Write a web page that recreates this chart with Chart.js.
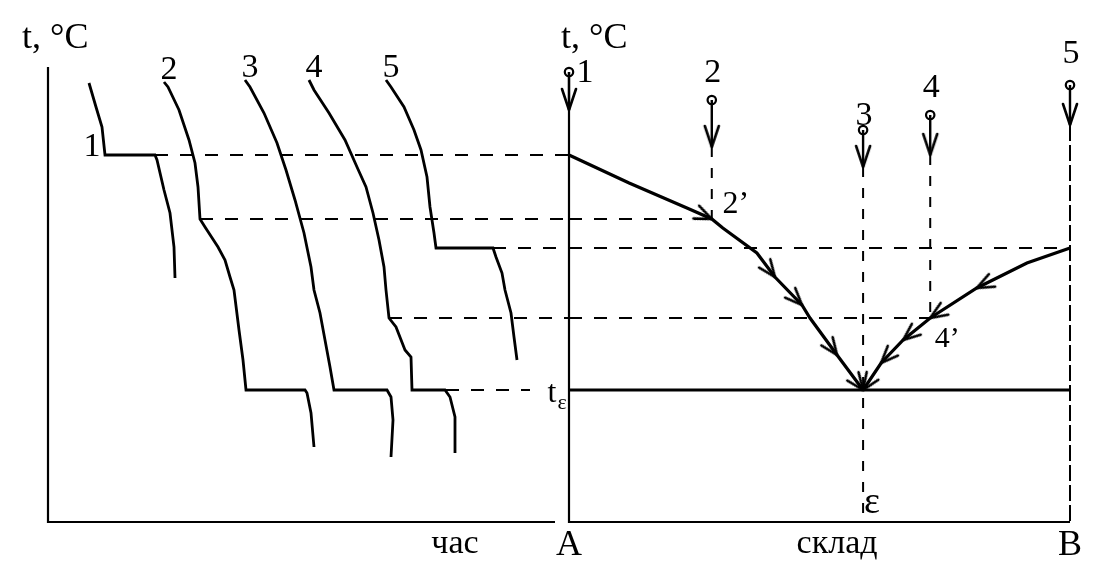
<!DOCTYPE html>
<html>
<head>
<meta charset="utf-8">
<script src="https://cdn.jsdelivr.net/npm/chart.js@4/dist/chart.umd.min.js"></script>
<style>
html, body { margin: 0; padding: 0; background: #fff; }
#diagram { display: block; }
</style>
</head>
<body>
<canvas id="diagram" width="1115" height="570"></canvas>
<script>
// characteristic temperatures (arbitrary units, 0 = bottom axis)
var tLevel1 = 367;   // pure A crystallises (plateau of curve 1)
var tLevel2 = 303;   // alloy 2 starts to crystallise (point 2')
var tLevel5 = 274;   // pure B crystallises (plateau of curve 5)
var tLevel4 = 204;   // alloy 4 starts to crystallise (point 4')
var tEut    = 132;   // eutectic temperature

// cooling curves, left panel: [time, temperature]
var cool1 = [[41,439],[48,415],[54,395],[57,367],[107,367],[109,362],[116,332],[122,309],[126,275],[127,244]];
var cool2 = [[116,440],[120,435],[131,412],[141,382],[147,359],[150,335],[152,303],[157,295],[170,275],[177,262],[182,245],[186,232],[191,192],[195,162],[198,132],[257,132],[259,129],[263,109],[266,75]];
var cool3 = [[197,442],[202,435],[216,409],[229,379],[238,352],[247,322],[256,289],[263,255],[266,232],[272,209],[277,182],[282,155],[286,132],[339,132],[343,125],[345,102],[343,65]];
var cool4 = [[261,442],[266,432],[281,409],[297,382],[309,355],[318,335],[325,309],[331,282],[336,255],[338,232],[341,204],[348,195],[357,172],[363,165],[364,132],[397,132],[402,125],[407,105],[407,69]];
var cool5 = [[338,442],[343,435],[356,415],[366,392],[373,372],[379,345],[382,315],[386,289],[388,274],[445,274],[448,265],[454,249],[457,232],[463,209],[466,185],[469,162]];

// time where each level line leaves its cooling curve
var levelTemps = [tLevel1, tLevel2, tLevel5, tLevel4, tEut];
var levelFrom  = [107, 152, 445, 341, 398];
var levelTo    = [0, 28.5, 100, 72.1, 0];   // composition where it meets the liquidus

// phase diagram, right panel: [composition %B, temperature]
var liqA = [[0,367],[12,339],[24,313],[28.5,303],[30.7,294],[37.5,269],[41.1,245],[46.5,217],[48.1,204],[53.5,167],[58.7,132]];
var liqB = [[100,274],[91.4,259],[81.4,234],[72.1,204],[66.7,182],[62.3,159],[58.7,132]];
var arrowsA = [3, 6, 7, 9, 10];
var arrowsB = [2, 3, 4, 5, 6];

// alloys 1..5
var alloyNames = ['1', '2', '3', '4', '5'];
var alloyComp  = [0, 28.5, 58.7, 72.1, 100];
var alloyStart = [450, 422, 392, 407, 437];   // open circles
var alloyArrow = [412, 375, 355, 367, 397];   // arrow tips
var alloyEnd   = [0, tLevel2, 0, tLevel4, 0];

var timeAxisEnd = 507;
var axisTop = 455;

function makeArrow(len, half) {
    var c = document.createElement('canvas');
    var s = Math.ceil(len * 2 + 6);
    c.width = s; c.height = s;
    var g = c.getContext('2d');
    g.strokeStyle = '#000';
    g.lineWidth = 2.6;
    g.lineCap = 'round';
    g.lineJoin = 'round';
    g.beginPath();
    g.moveTo(s / 2 - half, s / 2 - len);
    g.lineTo(s / 2, s / 2);
    g.lineTo(s / 2 + half, s / 2 - len);
    g.stroke();
    return c;
}
var bigArrow = makeArrow(21, 7);
var smallArrow = makeArrow(17, 7);

function pts(arr) {
    return arr.map(function (p) { return {x: p[0], y: p[1]}; });
}

function line(data, axis, width, dash) {
    return {
        data: data, xAxisID: axis, showLine: true, pointRadius: 0,
        borderColor: '#000', borderWidth: width, borderDash: dash || [],
        tension: 0, clip: false
    };
}

var datasets = [];

// axes of both panels
datasets.push(line([{x: 0, y: axisTop}, {x: 0, y: 0}, {x: timeAxisEnd, y: 0}], 'xt', 2.2));
datasets.push(line([{x: 0, y: alloyStart[0]}, {x: 0, y: 0}, {x: 100, y: 0}], 'xc', 2.2));

// cooling curves
[cool1, cool2, cool3, cool4, cool5].forEach(function (c) {
    datasets.push(line(pts(c), 'xt', 2.8));
});

// horizontal level lines through both panels
levelTemps.forEach(function (T, i) {
    var tEnd = (T === tEut) ? 482 : 521;
    datasets.push(line([{x: levelFrom[i], y: T}, {x: tEnd, y: T}], 'xt', 2, [13, 12]));
    if (levelTo[i] > 0) {
        datasets.push(line([{x: 0, y: T}, {x: levelTo[i], y: T}], 'xc', 2, [13, 12]));
    }
});

// solidus (eutectic line)
datasets.push(line([{x: 0, y: tEut}, {x: 100, y: tEut}], 'xc', 3));

// liquidus branches
datasets.push(line(pts(liqA), 'xc', 3.2));
datasets.push(line(pts(liqB), 'xc', 3.2));

// alloy verticals
alloyComp.forEach(function (c, i) {
    datasets.push(line([{x: c, y: alloyStart[i]}, {x: c, y: alloyArrow[i]}], 'xc', 2.4));
    if (i > 0) {
        var dash = (i === 4) ? [16, 4] : [10, 11];
        datasets.push(line([{x: c, y: alloyArrow[i]}, {x: c, y: alloyEnd[i]}], 'xc', 2, dash));
    }
});

// arrow heads on the verticals
datasets.push({
    data: alloyComp.map(function (c, i) { return {x: c, y: alloyArrow[i]}; }),
    xAxisID: 'xc', showLine: false, pointStyle: bigArrow, pointRadius: 6, clip: false
});

// open circles
datasets.push({
    data: alloyComp.map(function (c, i) { return {x: c, y: alloyStart[i]}; }),
    xAxisID: 'xc', showLine: false, pointStyle: 'circle', pointRadius: 4.2,
    pointBackgroundColor: '#fff', pointBorderColor: '#000', pointBorderWidth: 2.2, clip: false
});

// arrows along the liquidus
function arrowSet(curve, idx) {
    return {
        data: idx.map(function (i) { return {x: curve[i][0], y: curve[i][1]}; }),
        xAxisID: 'xc', showLine: false, pointStyle: smallArrow, pointRadius: 6, clip: false,
        rotation: function (ctx) {
            var i = idx[ctx.dataIndex];
            var sx = ctx.chart.scales.xc, sy = ctx.chart.scales.y;
            var dx = sx.getPixelForValue(curve[i][0]) - sx.getPixelForValue(curve[i - 1][0]);
            var dy = sy.getPixelForValue(curve[i][1]) - sy.getPixelForValue(curve[i - 1][1]);
            return Math.atan2(-dx, dy) * 180 / Math.PI;
        }
    };
}
datasets.push(arrowSet(liqA, arrowsA));
datasets.push(arrowSet(liqB, arrowsB));

var textPlugin = {
    id: 'texts',
    afterDatasetsDraw: function (chart) {
        var ctx = chart.ctx;
        var xt = chart.scales.xt, xc = chart.scales.xc, y = chart.scales.y;
        var serif = '"Liberation Serif", "DejaVu Serif", serif';
        function put(text, x, yy, size, align) {
            ctx.font = size + 'px ' + serif;
            ctx.textAlign = align || 'center';
            ctx.textBaseline = 'alphabetic';
            ctx.fillText(text, x, yy);
        }
        ctx.save();
        ctx.fillStyle = '#000';
        put('t, \u00B0C', xt.getPixelForValue(0) - 26, y.getPixelForValue(474), 36, 'left');
        put('t, \u00B0C', xc.getPixelForValue(0) - 8, y.getPixelForValue(474), 36, 'left');

        // cooling-curve numbers
        put('1', xt.getPixelForValue(cool1[3][0]) - 13, y.getPixelForValue(cool1[3][1]) + 1, 34);
        [cool2, cool3, cool4, cool5].forEach(function (c, k) {
            put(alloyNames[k + 1], xt.getPixelForValue(c[0][0]) + 5, y.getPixelForValue(c[0][1]) - 3, 34);
        });

        // alloy numbers above the circles
        alloyComp.forEach(function (c, i) {
            var px = xc.getPixelForValue(c), py = y.getPixelForValue(alloyStart[i]);
            if (i === 0) put(alloyNames[i], px + 16, py + 10, 34);
            else if (i === 2) put(alloyNames[i], px + 1, py - 5, 34);
            else if (i === 4) put(alloyNames[i], px + 1, py - 22, 34);
            else put(alloyNames[i], px + 1, py - 18, 34);
        });

        put('2\u2019', xc.getPixelForValue(alloyComp[1]) + 24, y.getPixelForValue(tLevel2) - 6, 32);
        put('4\u2019', xc.getPixelForValue(alloyComp[3]) + 17, y.getPixelForValue(tLevel4) + 29, 30);
        put('\u03B5', xc.getPixelForValue(alloyComp[2]) + 9, y.getPixelForValue(9), 38);

        put('t', xc.getPixelForValue(0) - 17, y.getPixelForValue(tEut) + 12, 32);
        put('\u03B5', xc.getPixelForValue(0) - 7, y.getPixelForValue(tEut) + 19, 22);

        put('A', xc.getPixelForValue(0), y.getPixelForValue(-33), 36);
        put('B', xc.getPixelForValue(100), y.getPixelForValue(-33), 36);
        put('склад', xc.getPixelForValue(53.5), y.getPixelForValue(-31), 34);
        put('час', xt.getPixelForValue(407), y.getPixelForValue(-31), 34);
        ctx.restore();
    }
};

var ctx = document.getElementById('diagram').getContext('2d');
var chart = new Chart(ctx, {
    type: 'scatter',
    data: { datasets: datasets },
    options: {
        responsive: false,
        animation: false,
        events: [],
        layout: { padding: 0, autoPadding: false },
        plugins: { legend: { display: false }, tooltip: { enabled: false } },
        scales: {
            xt: { type: 'linear', axis: 'x', display: false, min: -48, max: 1067 },
            xc: { type: 'linear', axis: 'x', display: false, min: -569 / 5.01, max: (1115 - 569) / 5.01 },
            y:  { type: 'linear', display: false, min: -48, max: 522 }
        }
    },
    plugins: [textPlugin]
});
</script>
</body>
</html>
